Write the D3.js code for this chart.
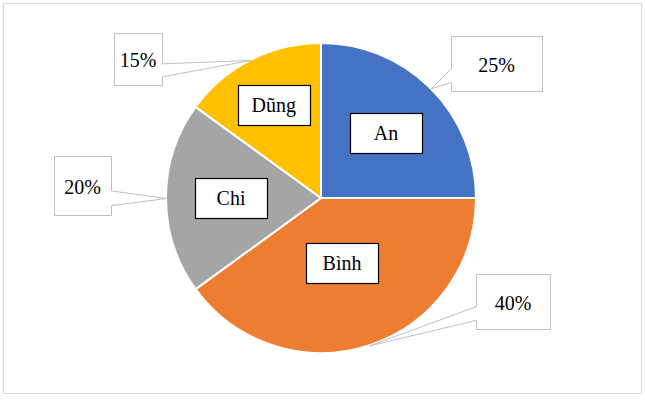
<!DOCTYPE html>
<html>
<head>
<meta charset="utf-8">
<script src="https://cdn.jsdelivr.net/npm/d3@7"></script>
<style>
  body { margin: 0; background: #fff; }
  svg { display: block; }
</style>
</head>
<body>
<svg id="chart" width="645" height="400"></svg>
<script>
// data
var names = ["An", "Bình", "Chi", "Dũng"];
var shares = [25, 40, 20, 15];
var pctLabels = ["25%", "40%", "20%", "15%"];
var colors = ["#4472C4", "#ED7D31", "#A5A5A5", "#FFC000"];

// layout (per slice): where the name box sits and where the callout box is
var nameRadius = [92, 68, 90, 104];
var calloutBoxes = [
	{ x: 451, y: 36, w: 91, h: 55 },
	{ x: 476, y: 274, w: 74, h: 55 },
	{ x: 54, y: 156, w: 57, h: 59 },
	{ x: 114, y: 33, w: 48, h: 52 }
];

var fontFamily = "'Liberation Serif', 'Times New Roman', serif";

var svg = d3.select("#chart");
var cx = 321, cy = 198, radius = 155;

// chart area border
svg.append("rect")
	.attr("x", 3.5).attr("y", 3.5)
	.attr("width", 638).attr("height", 390)
	.attr("fill", "#fff")
	.attr("stroke", "#D9D9D9")
	.attr("stroke-width", 1);

var slices = d3.pie().sort(null).value(function(d) { return d; })(shares);

var arc = d3.arc().innerRadius(0).outerRadius(radius);
var edgeArc = d3.arc().innerRadius(radius).outerRadius(radius);

var g = svg.append("g").attr("transform", "translate(" + cx + "," + cy + ")");

g.selectAll("path.slice")
	.data(slices)
	.enter()
	.append("path")
	.attr("class", "slice")
	.attr("d", arc)
	.attr("fill", function(d, i) { return colors[i]; })
	.attr("stroke", "#fff")
	.attr("stroke-width", 2)
	.attr("stroke-linejoin", "round");

// callout shape: rectangle with a wedge pointing at the slice edge
var calloutPath = function(b, tip) {
	var mx = b.x + b.w / 2, my = b.y + b.h / 2;
	var f1 = tip[1] > my ? 7 / 12 : 2 / 12;
	var f2 = tip[1] > my ? 10 / 12 : 5 / 12;
	var y1 = b.y + b.h * f1, y2 = b.y + b.h * f2;
	var p = [];
	if (tip[0] < mx) {
		p = [[b.x, b.y], [b.x + b.w, b.y], [b.x + b.w, b.y + b.h], [b.x, b.y + b.h],
			[b.x, y2], tip, [b.x, y1]];
	} else {
		p = [[b.x, b.y], [b.x + b.w, b.y], [b.x + b.w, y1], tip, [b.x + b.w, y2],
			[b.x + b.w, b.y + b.h], [b.x, b.y + b.h]];
	}
	return "M" + p.map(function(q) { return (q[0] + 0.5) + "," + (q[1] + 0.5); }).join("L") + "Z";
};

slices.forEach(function(d, i) {
	var c = edgeArc.centroid(d);
	var tip = [cx + c[0], cy + c[1]];
	var b = calloutBoxes[i];

	svg.append("path")
		.attr("d", calloutPath(b, tip))
		.attr("fill", "#fff")
		.attr("stroke", "#BFBFBF")
		.attr("stroke-width", 1);

	svg.append("text")
		.attr("x", b.x + b.w / 2)
		.attr("y", b.y + b.h / 2 + 8)
		.attr("text-anchor", "middle")
		.attr("font-family", fontFamily)
		.attr("font-size", 20)
		.attr("fill", "#000")
		.text(pctLabels[i]);
});

// category name boxes inside the slices
slices.forEach(function(d, i) {
	var la = d3.arc().innerRadius(nameRadius[i]).outerRadius(nameRadius[i]);
	var c = la.centroid(d);
	var x = cx + c[0], y = cy + c[1];
	var bw = 72, bh = 40;

	svg.append("rect")
		.attr("x", Math.round(x - bw / 2) + 0.5)
		.attr("y", Math.round(y - bh / 2) + 0.5)
		.attr("width", bw)
		.attr("height", bh)
		.attr("fill", "#fff")
		.attr("stroke", "#000")
		.attr("stroke-width", 1.2);

	svg.append("text")
		.attr("x", x)
		.attr("y", y + 7)
		.attr("text-anchor", "middle")
		.attr("font-family", fontFamily)
		.attr("font-size", 20)
		.attr("fill", "#000")
		.text(names[i]);
});
</script>
</body>
</html>
